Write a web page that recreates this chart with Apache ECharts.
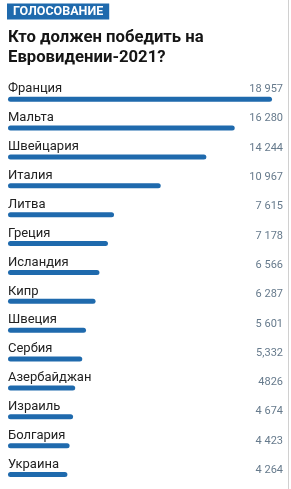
<!DOCTYPE html>
<html><head><meta charset="utf-8">
<script src="https://cdn.jsdelivr.net/npm/echarts@6/dist/echarts.min.js"></script>
<style>html,body{margin:0;padding:0;background:#fff}#c{width:291px;height:489px}</style>
</head><body><div id="c"></div>
<script>
const categories = ['Франция','Мальта','Швейцария','Италия','Литва','Греция','Исландия','Кипр','Швеция','Сербия','Азербайджан','Израиль','Болгария','Украина'];
const votes = [18957,16280,14244,10967,7615,7178,6566,6287,5601,5332,4826,4674,4423,4264];
const voteLabels = ['18 957','16 280','14 244','10 967','7 615','7 178','6 566','6 287','5 601','5,332','4826','4 674','4 423','4 264'];
const badgeText = 'ГОЛОСОВАНИЕ';
const titleText = 'Кто должен победить на\nЕвровидении-2021?';

const chart = echarts.init(document.getElementById('c'));
chart.setOption({
  animation:false,
  backgroundColor:'#fff',
  title:[
    {text:badgeText,left:7,top:4,padding:[2,6,1,6],backgroundColor:'#1f6aad',
     textStyle:{color:'#fff',fontSize:12.5,fontWeight:'bold',fontFamily:'Roboto',lineHeight:12}},
    {text:titleText,left:8,top:28,padding:0,
     textStyle:{color:'#151515',fontSize:16.7,fontWeight:'bold',fontFamily:'Roboto',lineHeight:20}}
  ],
  grid:[
    {left:8,right:19,top:84.7,height:410.2,containLabel:false},
    {left:8,right:19,top:74.7,height:410.2,containLabel:false}
  ],
  xAxis:[
    {type:'value',min:0,max:18957,show:false,gridIndex:0},
    {type:'value',min:0,max:1,show:false,gridIndex:1}
  ],
  yAxis:[
    {type:'category',data:categories,inverse:true,show:false,gridIndex:0},
    {type:'category',data:voteLabels,inverse:true,position:'right',gridIndex:1,
     axisLine:{show:false},axisTick:{show:false},splitLine:{show:false},
     axisLabel:{show:true,align:'right',margin:11,verticalAlign:'middle',
       color:'#667a8c',fontSize:11,fontFamily:'Roboto'}}
  ],
  series:[{
    type:'bar',xAxisIndex:0,yAxisIndex:0,data:votes,barWidth:5,
    itemStyle:{color:'#1f6aad',borderRadius:3},
    label:{show:true,position:[0,-7.5],verticalAlign:'middle',align:'left',
      formatter:p=>p.name,color:'#222',fontSize:13,fontFamily:'Roboto'}
  }],
  graphic:[{type:'line',shape:{x1:288.5,y1:0,x2:288.5,y2:489},style:{stroke:'#d0d0d0',lineWidth:1}}]
});
</script></body></html>
